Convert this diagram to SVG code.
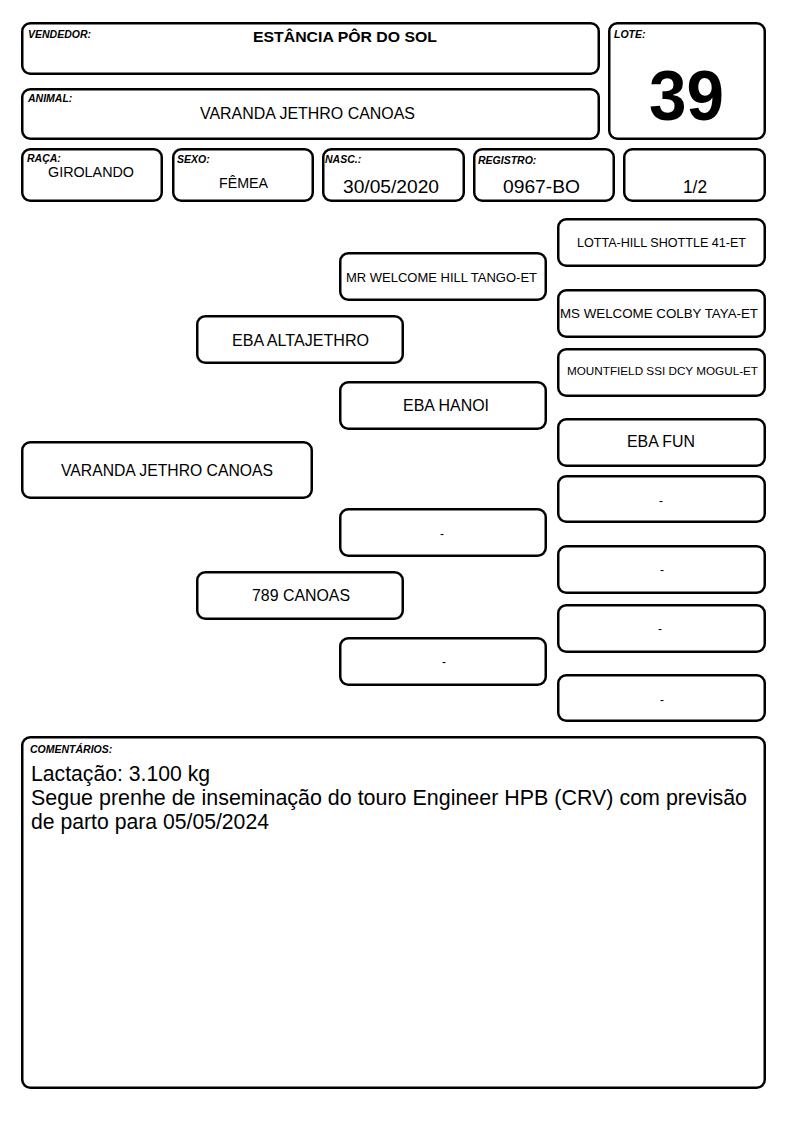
<svg xmlns="http://www.w3.org/2000/svg" width="794" height="1123" viewBox="0 0 794 1123">
<style>
rect.b{fill:#fff;stroke:#000;stroke-width:2.5}
text{font-family:"Liberation Sans",Arial,sans-serif;fill:#000}
.lab{font-size:10.5px;font-weight:bold;font-style:italic}
.c{text-anchor:middle}
.v{font-size:16px}
.s{font-size:13px}
.d{font-size:12px}
.cm{font-size:21.2px}
</style>
<rect width="794" height="1123" fill="#fff"/>
<g id="vendedor">
<rect class="b" x="22.25" y="23.25" width="576.5" height="50.5" rx="8"/>
<text class="lab" x="28" y="38">VENDEDOR:</text>
<text class="c" x="345" y="42" font-size="15" font-weight="bold" textLength="184" lengthAdjust="spacingAndGlyphs">ESTÂNCIA PÔR DO SOL</text>
</g>
<g id="animal">
<rect class="b" x="22.25" y="89.25" width="576.5" height="49.5" rx="8"/>
<text class="lab" x="28" y="102">ANIMAL:</text>
<text class="c v" x="307.5" y="119" textLength="215" lengthAdjust="spacingAndGlyphs">VARANDA JETHRO CANOAS</text>
</g>
<g id="lote">
<rect class="b" x="609.25" y="23.25" width="155.5" height="115.5" rx="8"/>
<text class="lab" x="614" y="38">LOTE:</text>
<text class="c" x="686.5" y="120" font-size="71" font-weight="bold" textLength="75" lengthAdjust="spacingAndGlyphs">39</text>
</g>
<g id="raca">
<rect class="b" x="22.25" y="149.25" width="139.5" height="51.5" rx="8"/>
<text class="lab" x="27" y="162">RAÇA:</text>
<text class="c" x="91" y="177" font-size="15" textLength="86" lengthAdjust="spacingAndGlyphs">GIROLANDO</text>
</g>
<g id="sexo">
<rect class="b" x="173.25" y="149.25" width="139.5" height="51.5" rx="8"/>
<text class="lab" x="177" y="163">SEXO:</text>
<text class="c" x="243.5" y="188" font-size="15" textLength="49" lengthAdjust="spacingAndGlyphs">FÊMEA</text>
</g>
<g id="nasc">
<rect class="b" x="323.25" y="149.25" width="140.5" height="51.5" rx="8"/>
<text class="lab" x="325" y="163">NASC.:</text>
<text class="c" x="391" y="193" font-size="19" textLength="96" lengthAdjust="spacingAndGlyphs">30/05/2020</text>
</g>
<g id="registro">
<rect class="b" x="474.25" y="149.25" width="139.5" height="51.5" rx="8"/>
<text class="lab" x="478" y="164">REGISTRO:</text>
<text class="c" x="541.5" y="193" font-size="19" textLength="77" lengthAdjust="spacingAndGlyphs">0967-BO</text>
</g>
<g id="parte">
<rect class="b" x="624.25" y="149.25" width="140.5" height="51.5" rx="8"/>
<text class="c" x="695" y="193" font-size="17.5" textLength="24" lengthAdjust="spacingAndGlyphs">1/2</text>
</g>
<g id="p-animal">
<rect class="b" x="22.25" y="442.25" width="289.5" height="55.5" rx="8"/>
<text class="c v" x="167" y="476" textLength="212" lengthAdjust="spacingAndGlyphs">VARANDA JETHRO CANOAS</text>
</g>
<g id="p-pai">
<rect class="b" x="197.25" y="316.25" width="205.5" height="46.5" rx="8"/>
<text class="c v" x="300.5" y="346" textLength="137" lengthAdjust="spacingAndGlyphs">EBA ALTAJETHRO</text>
</g>
<g id="p-mae">
<rect class="b" x="197.25" y="572.25" width="205.5" height="46.5" rx="8"/>
<text class="c v" x="301" y="601" textLength="98" lengthAdjust="spacingAndGlyphs">789 CANOAS</text>
</g>
<g id="p-avo-pp">
<rect class="b" x="340.25" y="253.25" width="205.5" height="46.5" rx="8"/>
<text class="c s" x="441.5" y="282" textLength="191" lengthAdjust="spacingAndGlyphs">MR WELCOME HILL TANGO-ET</text>
</g>
<g id="p-ava-pm">
<rect class="b" x="340.25" y="382.25" width="205.5" height="46.5" rx="8"/>
<text class="c v" x="446" y="411" textLength="86" lengthAdjust="spacingAndGlyphs">EBA HANOI</text>
</g>
<g id="p-avo-mp">
<rect class="b" x="340.25" y="509.25" width="205.5" height="46.5" rx="8"/>
<text class="c d" x="442" y="538">-</text>
</g>
<g id="p-ava-mm">
<rect class="b" x="340.25" y="638.25" width="205.5" height="46.5" rx="8"/>
<text class="c d" x="444" y="666">-</text>
</g>
<g id="p-b1">
<rect class="b" x="558.25" y="219.25" width="206.5" height="46.5" rx="8"/>
<text class="c" x="661.5" y="247" font-size="12.5" textLength="169" lengthAdjust="spacingAndGlyphs">LOTTA-HILL SHOTTLE 41-ET</text>
</g>
<g id="p-b2">
<rect class="b" x="558.25" y="290.25" width="206.5" height="46.5" rx="8"/>
<text class="c s" x="659" y="318" textLength="198" lengthAdjust="spacingAndGlyphs">MS WELCOME COLBY TAYA-ET</text>
</g>
<g id="p-b3">
<rect class="b" x="558.25" y="349.25" width="206.5" height="46.5" rx="8"/>
<text class="c" x="662.5" y="375" font-size="11.8" textLength="191" lengthAdjust="spacingAndGlyphs">MOUNTFIELD SSI DCY MOGUL-ET</text>
</g>
<g id="p-b4">
<rect class="b" x="558.25" y="419.25" width="206.5" height="46.5" rx="8"/>
<text class="c v" x="661" y="447" textLength="68" lengthAdjust="spacingAndGlyphs">EBA FUN</text>
</g>
<g id="p-b5">
<rect class="b" x="558.25" y="476.25" width="206.5" height="45.5" rx="8"/>
<text class="c d" x="661" y="505">-</text>
</g>
<g id="p-b6">
<rect class="b" x="558.25" y="546.25" width="206.5" height="46.5" rx="8"/>
<text class="c d" x="662" y="574">-</text>
</g>
<g id="p-b7">
<rect class="b" x="558.25" y="605.25" width="206.5" height="46.5" rx="8"/>
<text class="c d" x="660" y="633">-</text>
</g>
<g id="p-b8">
<rect class="b" x="558.25" y="675.25" width="206.5" height="45.5" rx="8"/>
<text class="c d" x="662" y="704">-</text>
</g>
<g id="comentarios">
<rect class="b" x="22.25" y="737.25" width="742.5" height="350.5" rx="8"/>
<text class="lab" x="30" y="753">COMENTÁRIOS:</text>
<text class="cm" x="31" y="781">Lactação: 3.100 kg</text>
<text class="cm" x="31" y="805" textLength="716" lengthAdjust="spacingAndGlyphs">Segue prenhe de inseminação do touro Engineer HPB (CRV) com previsão</text>
<text class="cm" x="31" y="829">de parto para 05/05/2024</text>
</g>
</svg>
